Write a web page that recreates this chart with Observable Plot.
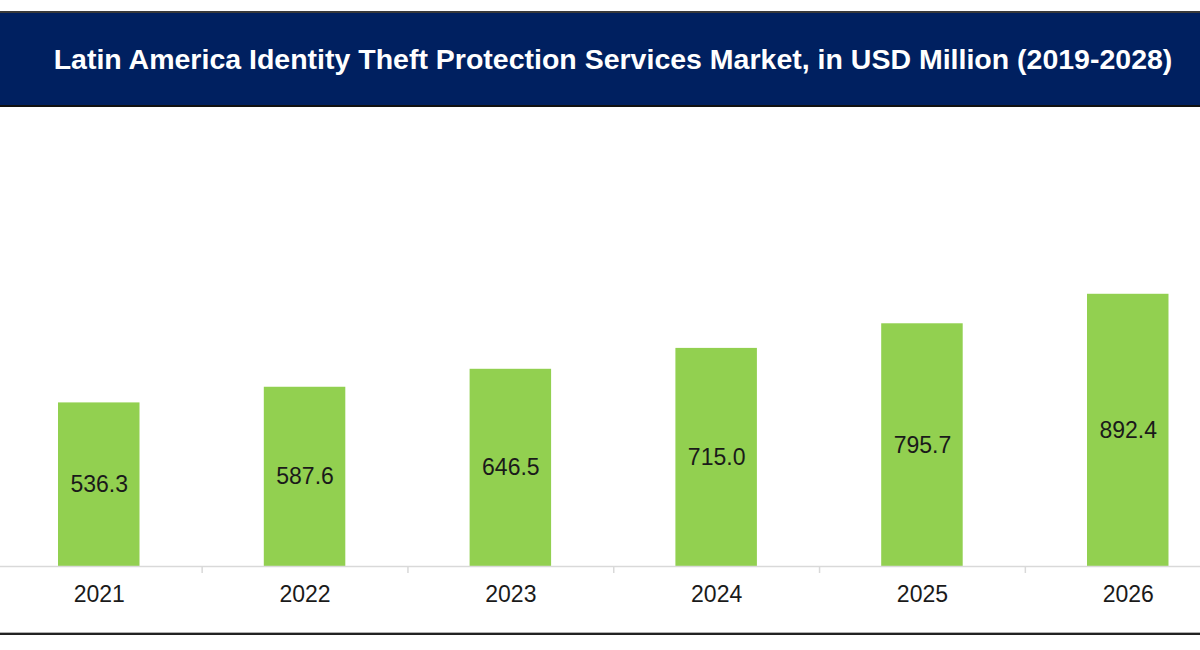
<!DOCTYPE html>
<html>
<head>
<meta charset="utf-8">
<script src="https://cdn.jsdelivr.net/npm/d3@7"></script>
<script src="https://cdn.jsdelivr.net/npm/@observablehq/plot@0.6"></script>
<style>
  html, body { margin: 0; padding: 0; background: #fff; overflow: hidden; }
  #wrap { position: relative; width: 1200px; height: 650px; font-family: "Liberation Sans", Arial, sans-serif; }
  #banner {
    position: absolute; top: 11px; left: -3px; width: 1206px; height: 92px;
    background: #002060; border-top: 2px solid #3a3a3a; border-bottom: 2px solid #111;
    display: flex; align-items: center; justify-content: center;
  }
  #banner h1 { margin: 0; padding-left: 26px; color: #fff; font-weight: bold; font-size: 28.5px; letter-spacing: 0; white-space: nowrap; }
  #chart { position: absolute; top: 106px; left: 0; }
  #bottom { position: absolute; top: 632px; left: 0; width: 1200px; height: 1px; background: #b0b0b0; }
  #bottom2 { position: absolute; top: 633px; left: 0; width: 1200px; height: 2px; background: #222; }
</style>
</head>
<body>
<div id="wrap">
  <div id="banner"><h1>Latin America Identity Theft Protection Services Market, in USD Million (2019-2028)</h1></div>
  <div id="chart"></div>
  <div id="bottom"></div>
  <div id="bottom2"></div>
</div>
<script>
const years = ["2021", "2022", "2023", "2024", "2025", "2026"];
const values = [536.3, 587.6, 646.5, 715.0, 795.7, 892.4];
const labels = ["536.3", "587.6", "646.5", "715.0", "795.7", "892.4"];
const boundaryYears = ["2021", "2022", "2023", "2024", "2025"];

const data = years.map((y, i) => ({year: y, value: values[i], label: labels[i]}));

const xRange = [-66.3, 1292.8];
const xPadding = 0.604;
const step = (xRange[1] - xRange[0]) / (years.length + xPadding);

const plot = Plot.plot({
  width: 1200,
  height: 524,
  marginLeft: 0,
  marginRight: 0,
  marginTop: 0,
  marginBottom: 64,
  style: {fontFamily: "'Liberation Sans', Arial, sans-serif", background: "transparent"},
  x: {domain: years, range: xRange, padding: xPadding, round: false, axis: null},
  y: {domain: [0, 1508], axis: null},
  marks: [
    Plot.barY(data, {x: "year", y: "value", fill: "#92D050"}),
    Plot.ruleY([0], {stroke: "#d9d9d9", strokeWidth: 1.5}),
    Plot.ruleX(boundaryYears, {x: d => d, y1: 0, y2: 0, dx: step / 2, insetBottom: -7, stroke: "#d9d9d9", strokeWidth: 1.5}),
    Plot.text(data, {x: "year", y: d => d.value / 2, text: "label", fill: "#1a1a1a", fontSize: 23}),
    Plot.text(data, {x: "year", y: 0, text: "year", dy: 28, fill: "#1a1a1a", fontSize: 23})
  ]
});
document.getElementById("chart").appendChild(plot);
</script>
</body>
</html>
